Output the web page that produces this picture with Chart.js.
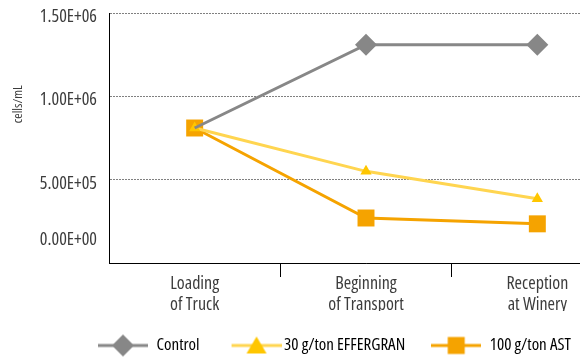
<!DOCTYPE html>
<html>
<head>
<meta charset="utf-8">
<script src="https://cdn.jsdelivr.net/npm/chart.js@4/dist/chart.umd.min.js"></script>
<style>
  html, body { margin: 0; padding: 0; background: #fff; overflow: hidden; width: 580px; height: 360px; }
  #wrap { position: relative; width: 640px; height: 364px; }
</style>
</head>
<body>
<div id="wrap"><canvas id="chart" width="640" height="364"></canvas></div>
<script>
// Yeast counts along the grape transport chain
const categories = [['Loading', 'of Truck'], ['Beginning', 'of Transport'], ['Reception', 'at Winery']];
const seriesNames = ['Control', '30 g/ton EFFERGRAN', '100 g/ton AST'];
const controlValues = [810000, 1310000, 1310000];
const effergranValues = [810000, 550000, 385000];
const astValues = [810000, 270000, 235000];
const yTickLabels = ['0.00E+00', '5.00E+05', '1.00E+06', '1.50E+06'];
const yAxisTitle = 'cells/mL';

const GREY = '#878787';
const YELLOW_LINE = '#FFD550';
const YELLOW_MARK = '#FFC600';
const ORANGE = '#F5A300';
const TEXT = '#3c3c3c';

// Narrow Open Sans everywhere
Chart.defaults.font.family = "'Open Sans', sans-serif";
Chart.defaults.font.weight = 'condensed';
Chart.defaults.color = TEXT;

// Legend swatch: a short line with the series marker in the middle.
// "shift" pushes the swatch right so that its line runs up to the label.
function swatch(lineColor, markColor, shape, shift) {
  const pad = shift || 0;
  const cv = document.createElement('canvas');
  cv.width = 50 + 2 * pad; cv.height = 24;
  const g = cv.getContext('2d');
  g.translate(2 * pad, 0);
  g.strokeStyle = lineColor; g.lineWidth = 3;
  g.beginPath(); g.moveTo(0, 12); g.lineTo(50, 12); g.stroke();
  g.fillStyle = markColor;
  g.beginPath();
  if (shape === 'diamond') {
    g.moveTo(25, 1); g.lineTo(36, 12); g.lineTo(25, 23); g.lineTo(14, 12);
  } else if (shape === 'triangle') {
    g.moveTo(25, 3); g.lineTo(35, 20); g.lineTo(15, 20);
  } else {
    g.rect(16.5, 3.5, 17, 17);
  }
  g.closePath(); g.fill();
  return cv;
}
const swatches = [
  swatch(GREY, GREY, 'diamond', 0),
  swatch(YELLOW_LINE, YELLOW_MARK, 'triangle', 6),
  swatch(ORANGE, ORANGE, 'square', 0)
];

// The legend row starts under the plot rather than at the canvas edge
const legendInset = {
  id: 'legendInset',
  afterLayout(ch) { ch.legend.left = 72; }
};

const chart = new Chart(document.getElementById('chart'), {
  type: 'line',
  plugins: [legendInset],
  data: {
    labels: categories,
    datasets: [
      {
        label: seriesNames[0], data: controlValues,
        borderColor: GREY, borderWidth: 3, tension: 0,
        pointStyle: 'rectRot', pointRadius: [0, 11, 11], pointBorderWidth: 0,
        pointBackgroundColor: GREY
      },
      {
        label: seriesNames[1], data: effergranValues,
        borderColor: YELLOW_LINE, borderWidth: 3, tension: 0,
        pointStyle: 'triangle', pointRadius: 6.5, pointBorderWidth: 0,
        pointBackgroundColor: YELLOW_MARK
      },
      {
        label: seriesNames[2], data: astValues,
        borderColor: ORANGE, borderWidth: 3, tension: 0,
        pointStyle: 'rect', pointRadius: 12, pointBorderWidth: 0,
        pointBackgroundColor: ORANGE
      }
    ]
  },
  options: {
    responsive: false,
    animation: false,
    layout: { padding: { top: 13, right: 17, left: 0, bottom: 0 } },
    plugins: {
      tooltip: { enabled: false },
      legend: {
        position: 'bottom',
        align: 'start',
        labels: {
          usePointStyle: true,
          pointStyleWidth: 50,
          padding: 26,
          color: TEXT,
          font: { size: 17 },
          generateLabels: (ch) => ch.data.datasets.map((ds, i) => ({
            text: ds.label, pointStyle: swatches[i], datasetIndex: i,
            fillStyle: 'transparent', strokeStyle: 'transparent', lineWidth: 0, hidden: false
          }))
        }
      }
    },
    scales: {
      x: {
        offset: true,
        grid: {
          offset: true, drawOnChartArea: false, tickLength: 14, lineWidth: 1,
          color: (c) => c.index === 0 ? 'rgba(0,0,0,0)' : '#000'
        },
        border: { display: true, color: '#000', width: 1 },
        ticks: { padding: -4, maxRotation: 0, autoSkip: false, color: TEXT,
          font: { size: 18, lineHeight: '21px' } }
      },
      y: {
        min: 0, max: 1500000,
        afterFit: (s) => { s.width = 109; s.paddingTop = 0; s.paddingBottom = 0; },
        grid: { drawTicks: false, color: '#808080', lineWidth: 1 },
        border: { display: true, color: '#000', width: 1, dash: [2, 1] },
        title: {
          display: true, text: ' '.repeat(28) + yAxisTitle, color: TEXT,
          font: { size: 13 }, padding: { top: 10, bottom: 0 }
        },
        ticks: {
          stepSize: 500000, padding: 12, labelOffset: 4, color: TEXT, autoSkip: false,
          font: { size: 18, lineHeight: '27px' },
          callback: (v, i) => i === 0 ? [yTickLabels[0], '', ''] : yTickLabels[i]
        }
      }
    }
  }
});
</script>
</body>
</html>
